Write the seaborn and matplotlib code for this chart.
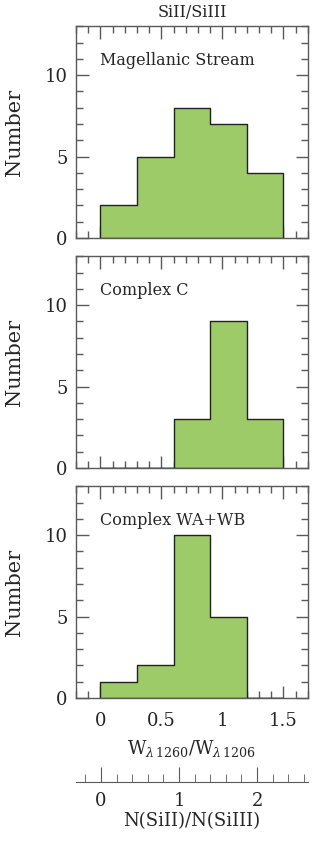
import numpy as np
import pandas as pd
import matplotlib
matplotlib.use("Agg")
import matplotlib.pyplot as plt
from matplotlib.ticker import MultipleLocator
import seaborn as sns

# bin edges of W1260/W1206 and counts per bin
bin_edges = [0.0, 0.3, 0.6, 0.9, 1.2, 1.5]
bin_centers = [0.15, 0.45, 0.75, 1.05, 1.35]
ms_counts = [2, 5, 8, 7, 4]
cc_counts = [0, 0, 3, 9, 3]
wawb_counts = [1, 2, 10, 5, 0]
panel_names = ["Magellanic Stream", "Complex C", "Complex WA+WB"]

fill_color = "#9ccb68"
frame_color = "#5a5a5a"

sns.set_style("ticks")
plt.rcParams['font.family'] = ['DejaVu Serif', 'DejaVu Sans']
plt.rcParams['mathtext.fontset'] = 'dejavuserif'

fig = plt.figure(figsize=(3.22, 8.42), dpi=100)

left, width = 0.236, 0.720
bottoms = [0.7173, 0.4442, 0.1710]
height = 0.2515

all_counts = [ms_counts, cc_counts, wawb_counts]

for i, (counts, name) in enumerate(zip(all_counts, panel_names)):
    ax = fig.add_axes([left, bottoms[i], width, height])
    df = pd.DataFrame({"ratio": bin_centers, "n": counts})
    sns.histplot(data=df, x="ratio", weights="n", bins=bin_edges, element="step",
                 fill=True, color=fill_color, alpha=1.0, edgecolor="#222222",
                 linewidth=1.0, ax=ax)
    ax.set_xlim(-0.2, 1.7)
    ax.set_ylim(0, 13)
    ax.xaxis.set_major_locator(MultipleLocator(0.5))
    ax.xaxis.set_minor_locator(MultipleLocator(0.1))
    ax.yaxis.set_major_locator(MultipleLocator(5))
    ax.yaxis.set_minor_locator(MultipleLocator(1))
    ax.tick_params(which="both", direction="in", top=True, right=True,
                   color=frame_color, width=1.0, labelsize=13, pad=6)
    ax.tick_params(which="major", length=9)
    ax.tick_params(which="minor", length=5)
    ax.tick_params(axis="x", which="both", pad=10)
    for sp in ax.spines.values():
        sp.set_color(frame_color)
        sp.set_linewidth(1.0)
    ax.set_ylabel("Number", fontsize=15, labelpad=15)
    ax.text(0.0, 10.9, name, fontsize=11.5, ha="left", va="center")
    ax.set_yticklabels([str(int(t)) for t in ax.get_yticks()])
    if i < 2:
        ax.set_xticklabels([])
        ax.set_xlabel("")
    else:
        ax.set_xticks([0, 0.5, 1, 1.5])
        ax.set_xticklabels(["0", "0.5", "1", "1.5"])
        ax.set_xlabel(r"W$_{\lambda\,1260}$/W$_{\lambda\,1206}$", fontsize=13, labelpad=6)
    if i == 0:
        ax.set_title("SiII/SiIII", fontsize=11.5, pad=7)

# secondary scale for N(SiII)/N(SiIII)
ax2 = fig.add_axes([left, 0.0713, width, 0.0001])
ax2.set_xlim(-0.32, 2.65)
ax2.set_yticks([])
for s in ["left", "right", "top"]:
    ax2.spines[s].set_visible(False)
ax2.spines["bottom"].set_color(frame_color)
ax2.xaxis.set_major_locator(MultipleLocator(1))
ax2.xaxis.set_minor_locator(MultipleLocator(0.2))
ax2.tick_params(axis="x", which="both", direction="in", bottom=True, top=False,
                labelbottom=True, color=frame_color, labelsize=13, pad=7)
ax2.tick_params(which="major", length=11)
ax2.tick_params(which="minor", length=6)
ax2.set_xlabel("N(SiII)/N(SiIII)", fontsize=13, labelpad=2)

fig.savefig("out.png", dpi=100)
